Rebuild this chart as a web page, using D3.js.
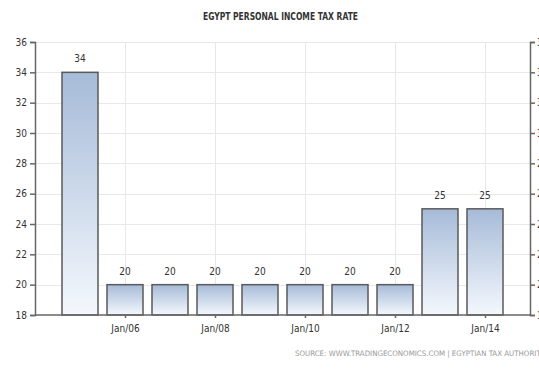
<!DOCTYPE html>
<html><head><meta charset="utf-8">
<script src="https://cdn.jsdelivr.net/npm/d3@7"></script>
<style>
body{margin:0;background:#fff;}
svg{display:block;}
text{font-family:"DejaVu Sans Condensed","Liberation Sans Narrow",sans-serif;}
</style></head>
<body><svg id="c" width="539" height="372"></svg>
<script>
const years = [2005,2006,2007,2008,2009,2010,2011,2012,2013,2014];
const values = [34,20,20,20,20,20,20,20,25,25];
const yTicks = [18,20,22,24,26,28,30,32,34,36];
const xTickYears = [2006,2008,2010,2012,2014];
const xTickLabels = ["Jan/06","Jan/08","Jan/10","Jan/12","Jan/14"];
const title = "EGYPT PERSONAL INCOME TAX RATE";
const source = "SOURCE:  WWW.TRADINGECONOMICS.COM  |  EGYPTIAN  TAX  AUTHORITY";

const svg = d3.select("#c");
const L = 35, R = 530, T = 42, B = 315;
const x = d3.scalePoint().domain(years).range([L, R]).padding(1);
const y = d3.scaleLinear().domain([18, 36]).range([B, T]);
const bw = x.step() * 0.8;

const defs = svg.append("defs");
const g = defs.append("linearGradient").attr("id","gr").attr("x1",0).attr("x2",0).attr("y1",0).attr("y2",1);
g.append("stop").attr("offset","0%").attr("stop-color","#a6bbd8");
g.append("stop").attr("offset","100%").attr("stop-color","#f4f8fd");

// title
svg.append("text").attr("x", 203).attr("y", 20)
  .attr("font-size", 10.5).attr("font-weight","bold").attr("fill","#333")
  .attr("textLength",155).attr("lengthAdjust","spacingAndGlyphs").text(title);

// grid
svg.append("g").selectAll("line").data(yTicks.slice(1)).join("line")
  .attr("x1", L).attr("x2", R).attr("y1", d => Math.round(y(d))+0.5).attr("y2", d => Math.round(y(d))+0.5)
  .attr("stroke","#e8e8e8").attr("stroke-width",1);
svg.append("g").selectAll("line").data(xTickYears).join("line")
  .attr("x1", d => Math.round(x(d))+0.5).attr("x2", d => Math.round(x(d))+0.5)
  .attr("y1", T).attr("y2", B).attr("stroke","#e8e8e8").attr("stroke-width",1);

// bars
svg.append("g").selectAll("rect").data(years).join("rect")
  .attr("x", (d) => x(d) - bw/2).attr("width", bw)
  .attr("y", (d,i) => y(values[i])).attr("height", (d,i) => y(18) - y(values[i]))
  .attr("fill","url(#gr)").attr("stroke","#5a5a5a").attr("stroke-width",1.5);

// value labels
svg.append("g").selectAll("text").data(years).join("text")
  .attr("x", d => x(d)).attr("y", (d,i) => y(values[i]) - 10)
  .attr("text-anchor","middle").attr("font-size",10).attr("fill","#333")
  .text((d,i) => values[i]);

// axes
const axisL = d3.axisLeft(y).tickValues(yTicks).tickSize(5).tickPadding(3);
const axisR = d3.axisRight(y).tickValues(yTicks).tickSize(5).tickPadding(2);
const axisB = d3.axisBottom(x).tickValues(xTickYears).tickSize(3).tickPadding(7)
  .tickFormat((d,i) => xTickLabels[xTickYears.indexOf(d)]);

function style(sel){
  sel.selectAll("path").attr("stroke","#666").attr("stroke-width",1.5);
  sel.selectAll("line").attr("stroke","#666").attr("stroke-width",1.5);
  sel.selectAll("text").attr("fill","#333").attr("font-size",10).attr("font-family",'"DejaVu Sans Condensed","Liberation Sans Narrow",sans-serif');
}
svg.append("g").attr("transform",`translate(${L},0)`).call(axisL).call(style);
svg.append("g").attr("transform",`translate(${R},0)`).call(axisR).call(style);
svg.append("g").attr("transform",`translate(0,${B})`).call(axisB).call(style)
  .select(".domain").attr("d", `M${L},0H${R}`);

// source
svg.append("text").attr("x", 295).attr("y", 356).attr("font-size",7.5).attr("fill","#999")
  .attr("textLength",250).attr("lengthAdjust","spacingAndGlyphs")
  .text(source);
</script></body></html>
